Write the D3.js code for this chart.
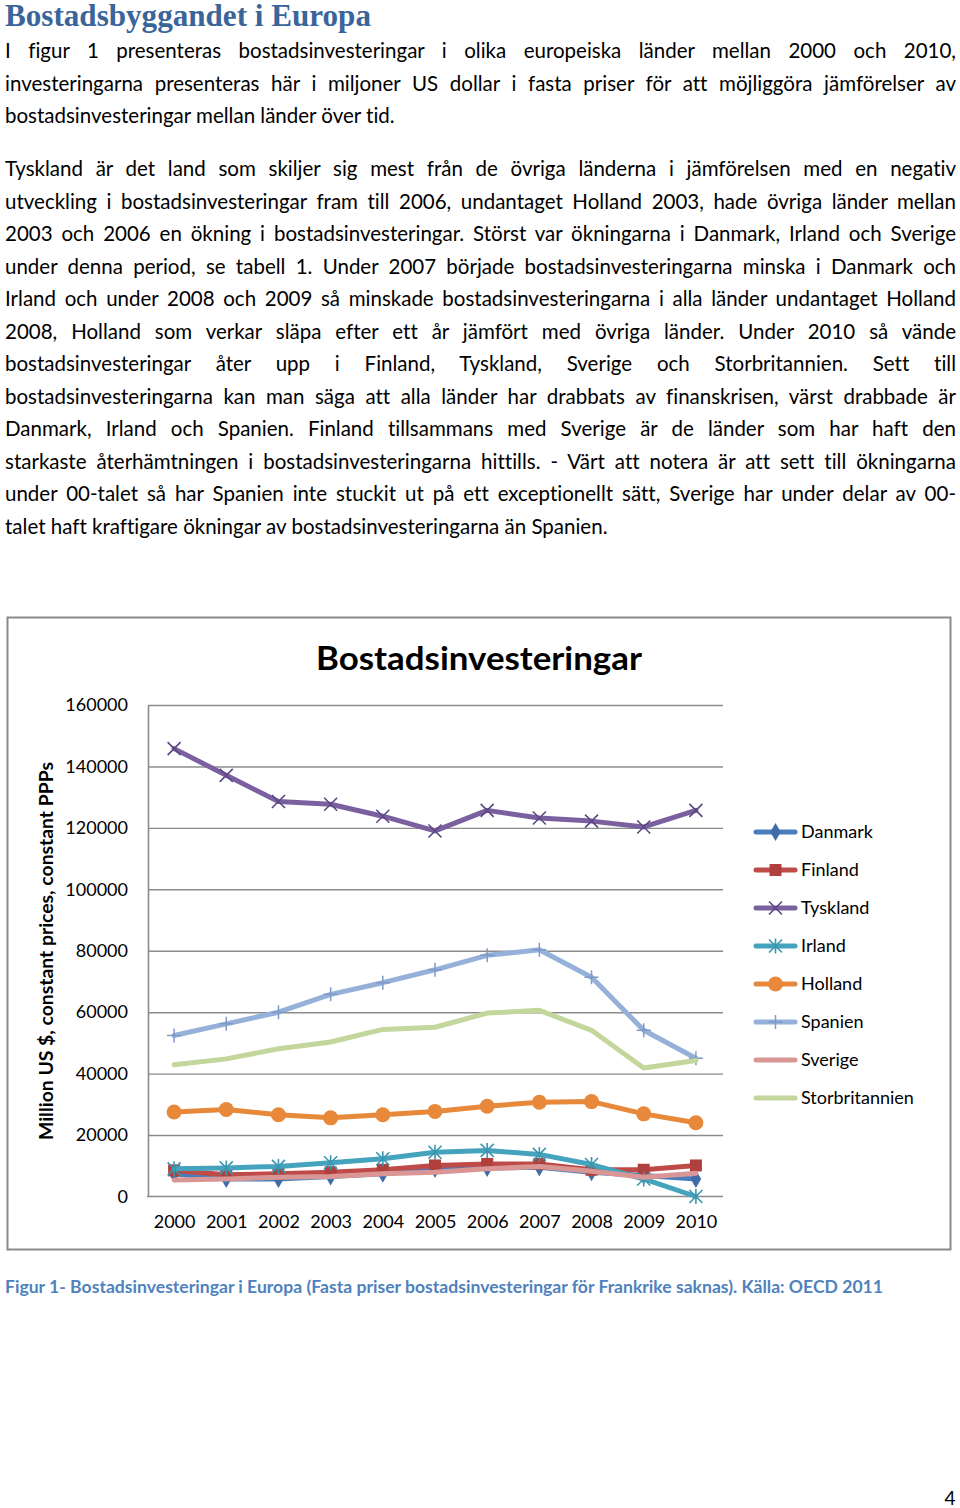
<!DOCTYPE html>
<html><head><meta charset="utf-8">
<script src="https://cdn.jsdelivr.net/npm/d3@7"></script>
<style>
html,body{margin:0;padding:0;background:#fff;}
body{width:960px;height:1508px;position:relative;overflow:hidden;font-family:Lato,"Open Sans",sans-serif;color:#000;font-variant-ligatures:none;}
.line{position:absolute;left:5px;width:951px;white-space:nowrap;text-align:justify;text-align-last:justify;line-height:32.5px;}
.line.last{text-align:left;text-align-last:left;}
#title{position:absolute;left:5px;top:0px;font-family:"Liberation Serif","DejaVu Serif",serif;font-weight:bold;font-size:30px;line-height:30px;color:#3A659A;white-space:nowrap;}
#chart{position:absolute;left:0;top:0;}
</style></head>
<body>
<div id="title">Bostadsbyggandet i Europa</div>
<div id="text"></div>
<svg id="chart" width="960" height="1508"></svg>
<script>
const years = ["2000","2001","2002","2003","2004","2005","2006","2007","2008","2009","2010"];
const yTicks = [0,20000,40000,60000,80000,100000,120000,140000,160000];
const danmark = [7400,5700,5700,6500,7400,9000,9300,9500,7900,6800,5700];
const finland = [8500,7100,7400,7900,8700,10100,10600,10600,8700,8700,10100];
const tyskland = [145800,137100,128600,127700,123800,119000,125700,123200,122200,120300,125700];
const irland = [9000,9300,9800,11000,12300,14400,15000,13700,10400,5700,0];
const holland = [27500,28300,26600,25600,26600,27700,29400,30700,30900,26900,24000];
const spanien = [52400,56200,60000,65800,69600,73800,78500,80300,71400,54100,45000];
const sverige = [5400,5700,6300,6500,7400,7900,9000,9800,8200,6300,7600];
const storbritannien = [42900,44800,48100,50300,54400,55100,59700,60600,54100,41800,44300];
const seriesNames = ["Danmark","Finland","Tyskland","Irland","Holland","Spanien","Sverige","Storbritannien"];
const seriesValues = [danmark,finland,tyskland,irland,holland,spanien,sverige,storbritannien];

const para1 = [
 "I figur 1 presenteras bostadsinvesteringar i olika europeiska länder mellan 2000 och 2010,",
 "investeringarna presenteras här i miljoner US dollar i fasta priser för att möjliggöra jämförelser av",
 "bostadsinvesteringar mellan länder över tid."];
const para2 = [
 "Tyskland är det land som skiljer sig mest från de övriga länderna i jämförelsen med en negativ",
 "utveckling i bostadsinvesteringar fram till 2006, undantaget Holland 2003, hade övriga länder mellan",
 "2003 och 2006 en ökning i bostadsinvesteringar. Störst var ökningarna i Danmark, Irland och Sverige",
 "under denna period, se tabell 1. Under 2007 började bostadsinvesteringarna minska i Danmark och",
 "Irland och under 2008 och 2009 så minskade bostadsinvesteringarna i alla länder undantaget Holland",
 "2008, Holland som verkar släpa efter ett år jämfört med övriga länder.  Under 2010 så vände",
 "bostadsinvesteringar åter upp i Finland, Tyskland, Sverige och Storbritannien. Sett till",
 "bostadsinvesteringarna kan man säga att alla länder har drabbats av finanskrisen, värst drabbade är",
 "Danmark, Irland och Spanien. Finland tillsammans med Sverige är de länder som har haft den",
 "starkaste återhämtningen i bostadsinvesteringarna hittills.  - Värt att notera är att sett till ökningarna",
 "under 00-talet så har Spanien inte stuckit ut på ett exceptionellt sätt, Sverige har under delar av 00-",
 "talet haft kraftigare ökningar av bostadsinvesteringarna än Spanien."];

// fit body font size
const cv = document.createElement("canvas").getContext("2d");
let fs = 20.5;
cv.font = fs + "px Lato";
const allFull = para1.slice(0,2).concat(para2.slice(0,11));
const maxW = d3.max(allFull, s => cv.measureText(s).width);
if (maxW > 940) fs = fs * 940 / maxW;

const textDiv = d3.select("#text");
function addPara(lines, top) {
  lines.forEach((s, i) => {
    textDiv.append("div").attr("class", "line" + (i === lines.length - 1 ? " last" : ""))
      .style("top", (top + i * 32.5) + "px").style("font-size", fs + "px").text(s);
  });
}
addPara(para1, 34);
addPara(para2, 152);

const svg = d3.select("#chart");
// chart border
svg.append("rect").attr("x", 7.5).attr("y", 617.5).attr("width", 943).attr("height", 632)
  .attr("fill", "none").attr("stroke", "#8a8a8a").attr("stroke-width", 2);

const x = d3.scalePoint().domain(years).range([148, 722]).padding(0.5);
const y = d3.scaleLinear().domain([0, 160000]).range([1196.5, 705]);

// gridlines
svg.append("g").attr("transform", "translate(148,0)")
  .call(d3.axisLeft(y).tickValues(yTicks.slice(1)).tickSize(-575).tickFormat(""))
  .call(g => g.select(".domain").remove())
  .call(g => g.selectAll("line").attr("stroke", "#8c8c8c").attr("stroke-width", 1.4));
// y axis
svg.append("g").attr("transform", "translate(148,0)")
  .call(d3.axisLeft(y).tickValues(yTicks).tickSize(0).tickPadding(20).tickFormat(d => String(d)))
  .call(g => g.select(".domain").attr("stroke", "#8c8c8c").attr("stroke-width", 1.6))
  .call(g => g.selectAll("text").attr("font-family", "Lato, sans-serif").attr("font-size", 18).attr("fill", "#000"));
// x axis
svg.append("g").attr("transform", "translate(0,1196.5)")
  .call(d3.axisBottom(x).tickSize(0).tickPadding(19))
  .call(g => g.select(".domain").attr("d", "M147,0H723").attr("stroke", "#8c8c8c").attr("stroke-width", 1.6))
  .call(g => g.selectAll("text").attr("font-family", "Lato, sans-serif").attr("font-size", 18).attr("fill", "#000"));

const colors = ["#4A7EBB","#BE4B48","#7B60A0","#45A3BD","#E8883A","#96B1D9","#DA9694","#C3D69B"];
const markerColors = ["#3E6DA8","#B0403D","#5B4784","#3A97B0","#E8883A","#7F9AC8",null,null];
const markerTypes = ["diamond","square","x","asterisk","circle","plus","none","none"];

function drawMarker(g, type, cx, cy, i) {
  const c = markerColors[i];
  if (type === "diamond") {
    g.append("path").attr("d", d3.symbol(d3.symbolDiamond, 95)()).attr("transform", `translate(${cx},${cy})`).attr("fill", c);
  } else if (type === "square") {
    g.append("rect").attr("x", cx - 6).attr("y", cy - 6).attr("width", 12).attr("height", 12).attr("fill", c);
  } else if (type === "circle") {
    g.append("circle").attr("cx", cx).attr("cy", cy).attr("r", 7.5).attr("fill", c);
  } else if (type === "x" || type === "asterisk") {
    const r = 6.5;
    g.append("path").attr("d", `M${cx-r},${cy-r}L${cx+r},${cy+r}M${cx-r},${cy+r}L${cx+r},${cy-r}` + (type === "asterisk" ? `M${cx},${cy-r-1}V${cy+r+1}` : ""))
      .attr("stroke", c).attr("stroke-width", 1.6).attr("fill", "none");
  } else if (type === "plus") {
    const r = 7;
    g.append("path").attr("d", `M${cx},${cy-r}V${cy+r}M${cx-r},${cy}H${cx+r}`)
      .attr("stroke", c).attr("stroke-width", 1.5).attr("fill", "none");
  }
}

const line = d3.line().x((d, j) => x(years[j])).y(d => y(d));
seriesValues.forEach((vals, i) => {
  const g = svg.append("g");
  g.append("path").attr("d", line(vals)).attr("fill", "none").attr("stroke", colors[i])
    .attr("stroke-width", 5).attr("stroke-linejoin", "round").attr("stroke-linecap", "round");
  vals.forEach((v, j) => drawMarker(g, markerTypes[i], x(years[j]), y(v), i));
});

// legend
seriesNames.forEach((n, i) => {
  const cy = 832 + i * 38;
  const g = svg.append("g");
  g.append("line").attr("x1", 756).attr("x2", 795).attr("y1", cy).attr("y2", cy)
    .attr("stroke", colors[i]).attr("stroke-width", 5).attr("stroke-linecap", "round");
  drawMarker(g, markerTypes[i], 775.5, cy, i);
  g.append("text").attr("x", 801).attr("y", cy).attr("dy", "0.35em")
    .attr("font-family", "Lato, sans-serif").attr("font-size", 18).text(n);
});

// chart title
svg.append("text").attr("x", 479).attr("y", 658).attr("dy", "0.35em").attr("text-anchor", "middle")
  .attr("font-family", "Lato, sans-serif").attr("font-weight", "bold").attr("font-size", 33)
  .attr("textLength", 326).attr("lengthAdjust", "spacingAndGlyphs").text("Bostadsinvesteringar");
// y-axis title
svg.append("text").attr("transform", "translate(47,951) rotate(-90)").attr("dy", "0.35em").attr("text-anchor", "middle")
  .attr("font-family", "Lato, sans-serif").attr("font-weight", "bold").attr("font-size", 18)
  .attr("textLength", 378).attr("lengthAdjust", "spacingAndGlyphs").text("Million US $, constant prices, constant PPPs");
// caption
svg.append("text").attr("x", 5).attr("y", 1287).attr("dy", "0.35em")
  .attr("font-family", "Lato, sans-serif").attr("font-weight", "bold").attr("font-size", 16.5).attr("fill", "#4F81BD")
  .attr("textLength", 878).attr("lengthAdjust", "spacingAndGlyphs")
  .text("Figur 1- Bostadsinvesteringar i Europa (Fasta priser bostadsinvesteringar för Frankrike saknas). Källa: OECD 2011");
// page number
svg.append("text").attr("x", 950).attr("y", 1498).attr("dy", "0.35em").attr("text-anchor", "middle")
  .attr("font-family", "Lato, sans-serif").attr("font-size", 19).text("4");

// title width fit
const t = document.getElementById("title");
const tw = t.getBoundingClientRect().width;
if (tw > 0) { const nf = 30 * 366 / tw; t.style.fontSize = nf + "px"; t.style.lineHeight = nf + "px"; }
</script>
</body></html>
